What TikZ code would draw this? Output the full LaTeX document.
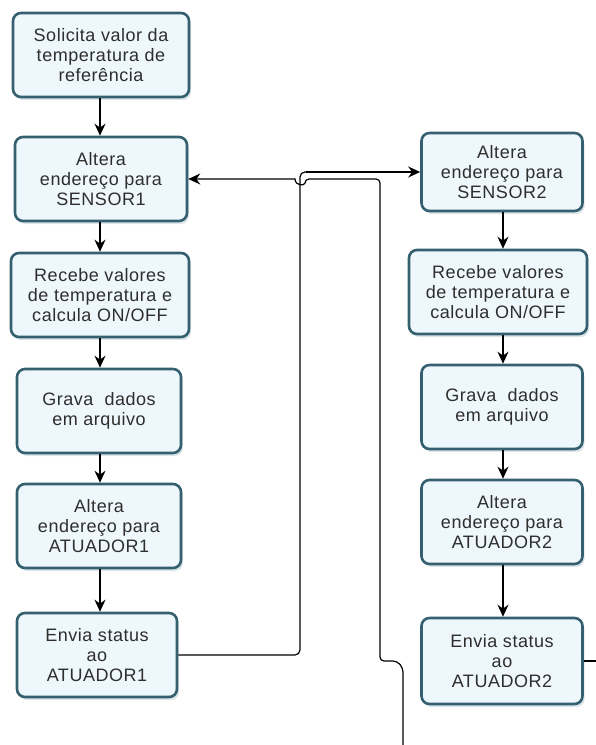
\documentclass[tikz,border=0pt]{standalone}
\usepackage{fontspec}
\setmainfont{Liberation Sans}[LetterSpace=3]
\usetikzlibrary{arrows.meta,shadows}
\definecolor{boxborder}{HTML}{35606F}
\definecolor{boxfill}{HTML}{EEF7FB}
\definecolor{boxtext}{HTML}{2E2E2E}
\definecolor{shadowc}{HTML}{B9CCD6}
\tikzset{
  fbox/.style={draw=boxborder, line width=2.6pt, fill=boxfill, rounded corners=8pt,
    align=center, text=boxtext, minimum height=84pt, inner sep=2pt,
    font=\fontsize{18}{20}\selectfont,
    drop shadow={shadow xshift=2pt, shadow yshift=-3pt, opacity=0.5, fill=shadowc}},
  arr/.style={draw=black, line width=1.7pt, -{Stealth[length=12pt,width=11pt]}},
  thin arr/.style={draw=black, line width=1.3pt, -{Stealth[length=12pt,width=11pt]}},
  wire/.style={draw=black, line width=1.2pt}
}
\begin{document}
\begin{tikzpicture}[x=1pt,y=-1pt]
\useasboundingbox (0,0) rectangle (596,745);
% left column
\node[fbox, minimum width=176pt] (a1) at (101,55) {Solicita valor da\\temperatura de\\referência};
\node[fbox, minimum width=172pt] (a2) at (101,179) {Altera\\endereço para\\SENSOR1};
\node[fbox, minimum width=178pt] (a3) at (100,295) {Recebe valores\\de temperatura e\\calcula ON/OFF};
\node[fbox, minimum width=164pt] (a4) at (99,411) {Grava\ \ dados\\em arquivo};
\node[fbox, minimum width=164pt] (a5) at (99,526) {Altera\\endereço para\\ATUADOR1};
\node[fbox, minimum width=160pt] (a6) at (97,655) {Envia status\\ao\\ATUADOR1};
% right column
\node[fbox, minimum width=161pt, minimum height=78pt] (b1) at (502,172) {Altera\\endereço para\\SENSOR2};
\node[fbox, minimum width=178pt] (b2) at (498,292) {Recebe valores\\de temperatura e\\calcula ON/OFF};
\node[fbox, minimum width=161pt] (b3) at (502,407) {Grava\ \ dados\\em arquivo};
\node[fbox, minimum width=161pt] (b4) at (502,522) {Altera\\endereço para\\ATUADOR2};
\node[fbox, minimum width=161pt, minimum height=86pt] (b5) at (502,661) {Envia status\\ao\\ATUADOR2};
% vertical arrows
\draw[arr] (a1.south -| 100,0) -- (a2.north -| 100,0);
\draw[thin arr] (a2.south -| 100,0) -- (a3.north -| 100,0);
\draw[arr] (a3.south -| 100,0) -- (a4.north -| 100,0);
\draw[arr] (a4.south -| 100,0) -- (a5.north -| 100,0);
\draw[arr] (a5.south -| 100,0) -- (a6.north -| 100,0);
\draw[thin arr] (b1.south -| 503,0) -- (b2.north -| 503,0);
\draw[thin arr] (b2.south -| 503,0) -- (b3.north -| 503,0);
\draw[thin arr] (b3.south -| 503,0) -- (b4.north -| 503,0);
\draw[arr] (b4.south -| 503,0) -- (b5.north -| 503,0);
% loop from ATUADOR1 to SENSOR2
\draw[wire, rounded corners=5pt] (a6.east) -- (300,655) -- (300,172) -- (308,172);
\draw[arr] (306,172) -- (b1.west);
% line back into SENSOR1
\coordinate (bot) at (403,745);
\coordinate (redge) at (596,661);
\draw[wire, -{Stealth[length=12pt,width=11pt]}, rounded corners=4pt]
  (bot) -- (403,668) -- (397,661) -- (380,661) -- (380,179) -- (305,179)
  [sharp corners] .. controls (305,186) and (295,186) .. (295,179)
  -- (a2.east);
% from ATUADOR2 off to the right
\draw[wire] (b5.east) -- (redge);
\end{tikzpicture}
\end{document}
